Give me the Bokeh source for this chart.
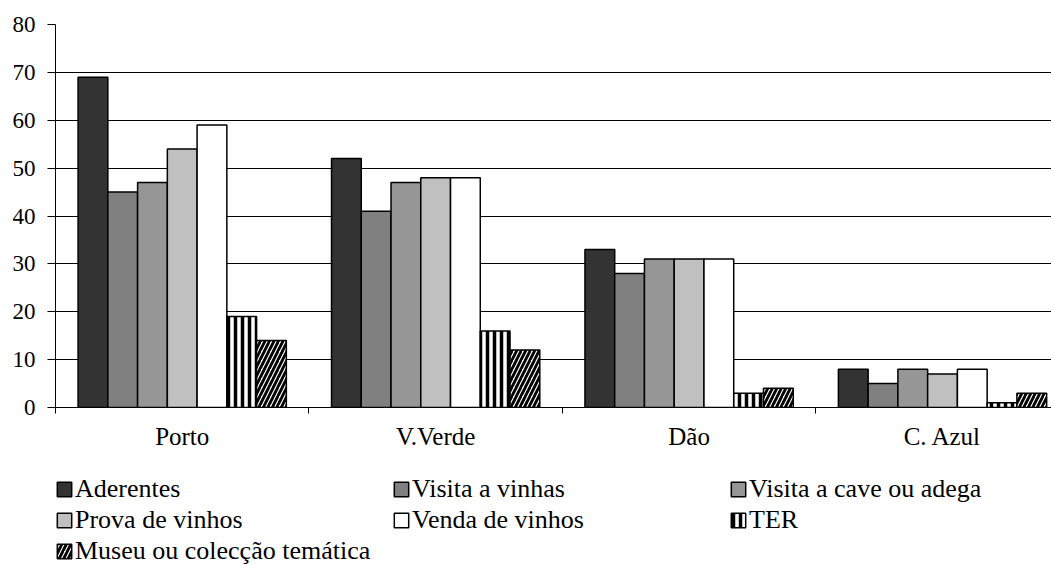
import numpy as np
from bokeh.plotting import figure
from bokeh.layouts import column
from bokeh.models import Range1d, FixedTicker, Legend, LegendItem, ColumnDataSource
from bokeh.transform import dodge
from bokeh.embed import file_html
from bokeh.resources import INLINE

# ---- data ----
categories = ["Porto", "V.Verde", "Dão", "C. Azul"]
series_names = ["Aderentes", "Visita a vinhas", "Visita a cave ou adega",
                "Prova de vinhos", "Venda de vinhos", "TER",
                "Museu ou colecção temática"]
aderentes = [69, 52, 33, 8]
visita_vinhas = [45, 41, 28, 5]
visita_cave = [47, 47, 31, 8]
prova_vinhos = [54, 48, 31, 7]
venda_vinhos = [59, 48, 31, 8]
ter = [19, 16, 3, 1]
museu = [14, 12, 4, 3]
y_ticks = [0, 10, 20, 30, 40, 50, 60, 70, 80]

series_values = [aderentes, visita_vinhas, visita_cave, prova_vinhos,
                 venda_vinhos, ter, museu]
keys = ["s%d" % i for i in range(len(series_values))]

# ---- styles ----
styles = [
    dict(fill_color="#333333"),
    dict(fill_color="#808080"),
    dict(fill_color="#969696"),
    dict(fill_color="#c0c0c0"),
    dict(fill_color="#ffffff"),
    dict(fill_color="#ffffff", hatch_pattern="vertical_line", hatch_color="black",
         hatch_weight=3.5, hatch_scale=7),
    dict(fill_color="#ffffff", hatch_pattern="right_diagonal_line", hatch_color="black",
         hatch_weight=2.8, hatch_scale=9),
]

centers = np.arange(len(categories)) + 0.5
boundaries = np.arange(len(categories) + 1).astype(float)

data = dict(x=centers)
for k, v in zip(keys, series_values):
    data[k] = v
source = ColumnDataSource(data)

W = 1051
H1 = 460
H2 = 565 - H1

p = figure(width=W, height=H1, output_backend="svg", toolbar_location=None,
           x_range=Range1d(0, 3.93), y_range=Range1d(0, 80),
           min_border_left=55, min_border_right=0, min_border_top=24,
           min_border_bottom=H1 - 407)
p.outline_line_color = None
p.background_fill_color = "white"
p.border_fill_color = "white"

bw = 0.1174
n = len(series_values)
for j, (k, st) in enumerate(zip(keys, styles)):
    p.vbar(x=dodge("x", (j - (n - 1) / 2) * bw), top=k, width=bw,
           source=source, line_color="black", line_width=1.5, **st)

# axes
xa = p.xaxis[0]
xa.ticker = FixedTicker(ticks=list(centers), minor_ticks=list(boundaries))
xa.major_label_overrides = {float(c): name for c, name in zip(centers, categories)}
xa.major_tick_out = 0
xa.major_tick_in = 0
xa.minor_tick_out = 6
xa.minor_tick_in = 0
xa.minor_tick_line_color = "black"
xa.axis_line_color = "black"
xa.major_label_standoff = 9
xa.major_label_text_font = "Liberation Serif"
xa.major_label_text_font_size = "25px"
xa.major_label_text_color = "black"

ya = p.yaxis[0]
ya.ticker = FixedTicker(ticks=y_ticks)
ya.major_tick_out = 8
ya.major_tick_in = 0
ya.minor_tick_line_color = None
ya.major_tick_line_color = "black"
ya.axis_line_color = "black"
ya.major_label_standoff = 12
ya.major_label_text_font = "Liberation Serif"
ya.major_label_text_font_size = "23px"
ya.major_label_text_color = "black"

p.xgrid.visible = False
p.ygrid.ticker = FixedTicker(ticks=y_ticks)
p.ygrid.grid_line_color = "black"
p.ygrid.grid_line_width = 1

# ---- legend panel: same series (hidden) so the legend shows their swatches ----
q = figure(width=W, height=H2, output_backend="svg", toolbar_location=None,
           x_range=Range1d(0, 3.93), y_range=Range1d(100, 101),
           min_border_left=0, min_border_right=0, min_border_top=0,
           min_border_bottom=0, x_axis_location=None, y_axis_location=None)
q.outline_line_color = None
q.xgrid.visible = False
q.ygrid.visible = False
q.background_fill_color = "white"
q.border_fill_color = "white"

proxies = []
for j, (k, st) in enumerate(zip(keys, styles)):
    r = q.vbar(x=dodge("x", (j - (n - 1) / 2) * bw), top=k, width=bw, source=source,
               line_color="black", line_width=1.5, **st)
    r.visible = False
    proxies.append(r)

legend = Legend(items=[LegendItem(label=nm, renderers=[r]) for nm, r in zip(series_names, proxies)],
                orientation="horizontal", ncols=3, location=(0, -1),
                glyph_width=18, glyph_height=18, label_standoff=2, label_width=316,
                spacing=1, padding=0, margin=0, border_line_color=None,
                background_fill_alpha=0, inactive_fill_alpha=0,
                label_text_font="Liberation Serif",
                label_text_font_size="26px", label_text_color="black")
q.add_layout(legend)

layout = column(p, q, spacing=0)
open("out.html", "w").write(file_html(layout, INLINE))
